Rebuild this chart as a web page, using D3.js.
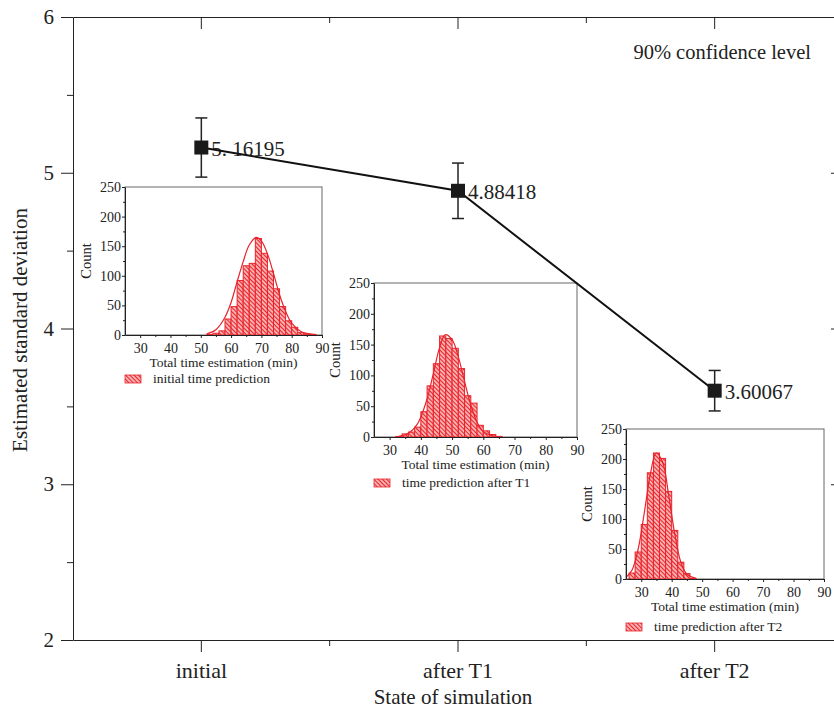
<!DOCTYPE html>
<html>
<head>
<meta charset="utf-8">
<script src="https://cdn.jsdelivr.net/npm/d3@7"></script>
<style>
  body { margin: 0; background: #fff; }
  svg { display: block; font-family: "Liberation Serif", "Times New Roman", serif; }
  .axis path, .axis line { stroke: #222; }
  .axis text { font-family: "Liberation Serif", "Times New Roman", serif; }
</style>
</head>
<body>
<svg id="chart" width="834" height="712"></svg>
<script>
// main series
const states = ["initial", "after T1", "after T2"];
const stdValues = [5.16195, 4.88418, 3.60067];
const stdLabels = ["5. 16195", "4.88418", "3.60067"];
const errHalf = [0.19, 0.178, 0.13];
const yTicks = [2, 3, 4, 5, 6];
const yMinorTicks = [2.5, 3.5, 4.5, 5.5];

// histograms (lower bin edge, bin width 2)
const binsInitial = [52, 54, 56, 58, 60, 62, 64, 66, 68, 70, 72, 74, 76, 78, 80, 82, 84, 86];
const countsInitial = [1, 3, 7, 27, 48, 92, 117, 121, 163, 138, 108, 78, 48, 24, 13, 4, 2, 1];
const curveInitial = [[52, 2], [55, 9], [58, 30], [60, 55], [62, 90], [64, 124], [66, 152], [68.3, 165],
  [70, 159], [72, 137], [74, 104], [76, 68], [78, 40], [80, 20], [83, 6], [88, 0.5]];

const binsT1 = [32, 34, 36, 38, 40, 42, 44, 46, 48, 50, 52, 54, 56, 58, 60, 62, 64];
const countsT1 = [1, 5, 8, 16, 41, 83, 119, 164, 160, 144, 111, 67, 55, 19, 10, 4, 1];
const curveT1 = [[33, 1], [36, 6], [39, 22], [42, 62], [44, 103], [46, 145], [47.8, 166], [50, 158],
  [52, 130], [54, 90], [56, 52], [58, 24], [60, 9], [63, 2], [66, 0]];

const binsT2 = [26, 28, 30, 32, 34, 36, 38, 40, 42, 44, 46];
const countsT2 = [10, 45, 91, 177, 210, 201, 146, 81, 28, 9, 1];
const curveT2 = [[25, 3], [27, 15], [29, 50], [31, 110], [33, 175], [34.9, 210], [37, 195], [39, 140],
  [41, 75], [43, 28], [45, 8], [48, 1]];

const histTicksX = [30, 40, 50, 60, 70, 80, 90];
const histMinorX = [35, 45, 55, 65, 75, 85];
const histTicksY = [0, 50, 100, 150, 200, 250];
const histMinorY = [25, 75, 125, 175, 225];

const svg = d3.select("#chart");
const red = "#e8232b";

// hatch pattern for the bars
const defs = svg.append("defs");
const pat = defs.append("pattern")
    .attr("id", "hatch")
    .attr("patternUnits", "userSpaceOnUse")
    .attr("width", 3).attr("height", 3)
    .attr("patternTransform", "rotate(-45)");
pat.append("rect").attr("width", 3).attr("height", 3).attr("fill", "#f8b0b0");
pat.append("line").attr("x1", 0).attr("y1", 0).attr("x2", 0).attr("y2", 3)
    .attr("stroke", red).attr("stroke-width", 2);

// main scales
const x = d3.scaleBand().domain(states).range([73, 843]).padding(0);
const cx = d => x(d) + x.bandwidth() / 2;
const y = d3.scaleLinear().domain([2, 6]).range([640, 17]);

// axes: left/bottom with labels, top/right mirrored with inward ticks
const left = svg.append("g").attr("class", "axis").attr("transform", "translate(73,0)")
    .call(d3.axisLeft(y).tickValues(yTicks).tickSize(12).tickSizeOuter(0).tickFormat(d3.format("d")));
left.attr("font-family", null);
left.selectAll("text").attr("font-size", 21).attr("fill", "#222").attr("x", -19);
svg.append("g").attr("class", "axis").attr("transform", "translate(73,0)")
    .call(d3.axisLeft(y).tickValues(yMinorTicks).tickSize(6).tickSizeOuter(0).tickFormat(""))
    .select(".domain").remove();

const bottom = svg.append("g").attr("class", "axis").attr("transform", "translate(0,640)")
    .call(d3.axisBottom(x).tickSize(12).tickSizeOuter(0));
bottom.attr("font-family", null);
bottom.selectAll("text").attr("font-size", 22).attr("fill", "#222").attr("dy", "1.05em");
const bandEdges = states.slice(1).map(s => x(s));
svg.append("g").attr("class", "axis").selectAll("line").data(bandEdges).join("line")
    .attr("x1", d => d).attr("x2", d => d).attr("y1", 640).attr("y2", 646).attr("stroke", "#222");

svg.append("g").attr("class", "axis").attr("transform", "translate(0,17)")
    .call(d3.axisBottom(x).tickSize(12).tickSizeOuter(0).tickFormat(""));
svg.append("g").attr("class", "axis").selectAll("line").data(bandEdges).join("line")
    .attr("x1", d => d).attr("x2", d => d).attr("y1", 17).attr("y2", 23).attr("stroke", "#222");
svg.append("g").attr("class", "axis").attr("transform", "translate(843,0)")
    .call(d3.axisLeft(y).tickValues(yTicks).tickSize(12).tickSizeOuter(0).tickFormat(""));

// axis titles
svg.append("text").attr("x", 453).attr("y", 704).attr("text-anchor", "middle")
    .attr("font-size", 21).attr("fill", "#222").text("State of simulation");
svg.append("text").attr("transform", "translate(27,330) rotate(-90)").attr("text-anchor", "middle")
    .attr("font-size", 21).attr("fill", "#222").text("Estimated standard deviation");
svg.append("text").attr("x", 811).attr("y", 59).attr("text-anchor", "end")
    .attr("font-size", 20.5).attr("fill", "#222").text("90% confidence level");

// insets
function drawInset(box, bins, counts, curve, legendText) {
    const g = svg.append("g");
    const hx = d3.scaleLinear().domain([25, 90]).range([box.left, box.left + box.width]);
    const hy = d3.scaleLinear().domain([0, 250]).range([box.top + box.height, box.top]);
    const clipId = "clip" + box.left;
    defs.append("clipPath").attr("id", clipId).append("rect")
        .attr("x", box.left).attr("y", box.top).attr("width", box.width).attr("height", box.height);

    g.append("rect").attr("x", box.left).attr("y", box.top)
        .attr("width", box.width).attr("height", box.height)
        .attr("fill", "#fff").attr("stroke", "#666").attr("stroke-width", 1);

    const plot = g.append("g").attr("clip-path", "url(#" + clipId + ")");
    plot.selectAll("rect.bar").data(bins).join("rect").attr("class", "bar")
        .attr("x", d => hx(d))
        .attr("width", d => hx(d + 2) - hx(d))
        .attr("y", (d, i) => hy(counts[i]))
        .attr("height", (d, i) => hy(0) - hy(counts[i]))
        .attr("fill", "url(#hatch)")
        .attr("stroke", red).attr("stroke-width", 1);
    plot.append("path").datum(curve)
        .attr("d", d3.line().x(d => hx(d[0])).y(d => hy(d[1])).curve(d3.curveCatmullRom))
        .attr("fill", "none").attr("stroke", red).attr("stroke-width", 1.2);

    const ax = g.append("g").attr("class", "axis").attr("transform", "translate(0," + hy(0) + ")")
        .call(d3.axisBottom(hx).tickValues(histTicksX).tickSize(3).tickSizeOuter(0));
    ax.attr("font-family", null);
    ax.selectAll("text").attr("font-size", 14).attr("fill", "#222").attr("dy", "0.85em");
    g.append("g").attr("class", "axis").attr("transform", "translate(0," + hy(0) + ")")
        .call(d3.axisBottom(hx).tickValues(histMinorX).tickSize(2).tickFormat(""))
        .select(".domain").remove();
    const ay = g.append("g").attr("class", "axis").attr("transform", "translate(" + box.left + ",0)")
        .call(d3.axisLeft(hy).tickValues(histTicksY).tickSize(3).tickSizeOuter(0));
    ay.attr("font-family", null);
    ay.selectAll("text").attr("font-size", 14).attr("fill", "#222").attr("x", -4);
    g.append("g").attr("class", "axis").attr("transform", "translate(" + box.left + ",0)")
        .call(d3.axisLeft(hy).tickValues(histMinorY).tickSize(2).tickFormat(""))
        .select(".domain").remove();

    g.append("text").attr("x", box.left + box.width / 2).attr("y", hy(0) + 32)
        .attr("text-anchor", "middle").attr("font-size", 13.5).attr("fill", "#222")
        .text("Total time estimation (min)");
    g.append("text")
        .attr("transform", "translate(" + (box.left - 34) + "," + (box.top + box.height / 2) + ") rotate(-90)")
        .attr("text-anchor", "middle").attr("font-size", 14.5).attr("fill", "#222").text("Count");

    g.append("rect").attr("x", box.left).attr("y", box.legendY - 8)
        .attr("width", 16).attr("height", 8)
        .attr("fill", "url(#hatch)").attr("stroke", red).attr("stroke-width", 0.8);
    g.append("text").attr("x", box.left + 28).attr("y", box.legendY)
        .attr("font-size", 13.5).attr("fill", "#222").text(legendText);
}

drawInset({left: 125, top: 187, width: 197, height: 148, legendY: 383},
    binsInitial, countsInitial, curveInitial, "initial time prediction");
drawInset({left: 374, top: 283, width: 203, height: 154, legendY: 487},
    binsT1, countsT1, curveT1, "time prediction after T1");
drawInset({left: 626, top: 429, width: 198, height: 150, legendY: 631},
    binsT2, countsT2, curveT2, "time prediction after T2");

// error bars
const pts = states.map((s, i) => ({s: s, v: stdValues[i], e: errHalf[i], label: stdLabels[i]}));
const eb = svg.append("g").attr("stroke", "#222").attr("stroke-width", 1.5);
pts.forEach(p => {
    eb.append("line").attr("x1", cx(p.s)).attr("x2", cx(p.s))
        .attr("y1", y(p.v + p.e)).attr("y2", y(p.v - p.e));
    [p.v + p.e, p.v - p.e].forEach(v => {
        eb.append("line").attr("x1", cx(p.s) - 6).attr("x2", cx(p.s) + 6)
            .attr("y1", y(v)).attr("y2", y(v));
    });
});

// value labels (drawn under the line, like the original)
svg.append("g").selectAll("text").data(pts).join("text")
    .attr("x", d => cx(d.s) + 10).attr("y", d => y(d.v) + 8)
    .attr("font-size", 21).attr("fill", "#222").text(d => d.label);

// connecting line and markers
svg.append("path").datum(pts)
    .attr("d", d3.line().x(d => cx(d.s)).y(d => y(d.v)))
    .attr("fill", "none").attr("stroke", "#111").attr("stroke-width", 2);
svg.append("g").selectAll("rect").data(pts).join("rect")
    .attr("x", d => cx(d.s) - 7).attr("y", d => y(d.v) - 7)
    .attr("width", 14).attr("height", 14).attr("fill", "#1a1a1a");
</script>
</body>
</html>
